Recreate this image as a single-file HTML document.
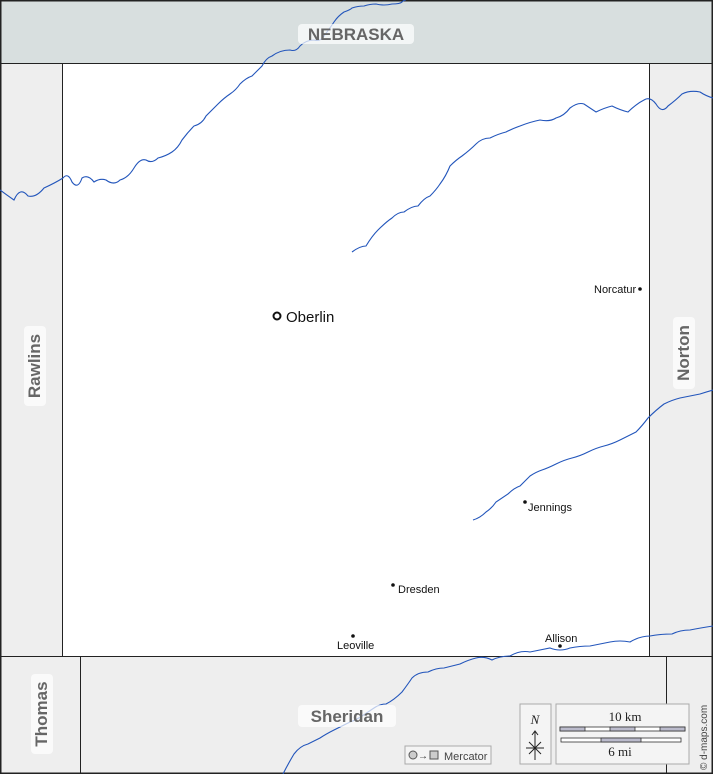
<!DOCTYPE html>
<html><head><style>body{margin:0}svg{display:block}</style></head><body>
<svg width="713" height="774" viewBox="0 0 713 774" xmlns="http://www.w3.org/2000/svg" font-family="Liberation Sans, sans-serif">
<rect width="713" height="774" fill="#eeeeee"/>
<rect x="0" y="0" width="713" height="63" fill="#d8dfdf"/>
<rect x="63" y="63" width="586" height="593" fill="#ffffff"/>
<g stroke="#222" fill="none" stroke-width="1">
<line x1="0" y1="63.5" x2="713" y2="63.5"/>
<line x1="62.5" y1="63" x2="62.5" y2="656"/>
<line x1="649.5" y1="63" x2="649.5" y2="656"/>
<line x1="0" y1="656.5" x2="713" y2="656.5"/>
<line x1="80.5" y1="656" x2="80.5" y2="774"/>
<line x1="666.5" y1="656" x2="666.5" y2="774"/>
<rect x="0.5" y="0.5" width="712" height="773" stroke-width="2"/>
</g>
<g stroke="#2255bb" fill="none" stroke-width="1.1">
<path d="M0,190 Q8,196 14,200 Q20,186 28,196 Q36,198 44,188 Q55,183 63,178 Q68,172 72,182 Q78,190 82,178 Q88,174 94,182 Q100,178 106,180 Q114,186 120,180 Q128,178 134,168 Q140,158 146,160 Q152,164 158,158 Q166,156 172,152 Q178,148 182,140 Q188,132 194,126 Q202,124 206,116 Q212,110 218,104 Q224,98 230,94 Q236,90 240,84 Q246,78 252,76 Q258,70 262,66 Q266,58 272,56 Q280,50 290,50 Q296,52 300,46 Q306,40 314,40 Q320,42 324,36 Q330,28 334,22 Q338,16 344,12 Q350,10 352,8 Q358,6 364,6 Q370,4 376,4 Q384,6 392,4 Q400,4 402,2 Q404,0 406,0"/>
<path d="M352,252 Q360,246 366,246 Q372,236 378,230 Q386,222 392,218 Q398,212 404,212 Q412,206 418,206 Q424,198 430,196 Q436,190 440,184 Q446,176 450,166 Q456,160 462,156 Q470,150 476,144 Q482,138 490,138 Q498,134 506,132 Q514,128 520,126 Q530,122 540,120 Q550,122 556,118 Q564,116 570,108 Q578,102 584,104 Q590,108 596,112 Q604,108 612,106 Q620,110 628,112 Q636,104 644,100 Q650,96 656,104 Q662,114 668,106 Q676,100 682,94 Q690,90 700,92 Q706,96 713,98"/>
<path d="M473,520 Q480,518 486,512 Q492,508 496,502 Q502,498 508,494 Q514,488 520,486 Q526,480 530,476 Q536,472 542,470 Q548,468 556,464 Q564,460 572,458 Q580,456 588,452 Q596,448 604,446 Q612,444 620,440 Q628,436 636,432 Q642,426 648,418 Q656,410 664,404 Q672,400 680,398 Q690,396 700,394 Q706,392 713,390"/>
<path d="M283,774 Q288,764 294,754 Q300,746 308,744 Q316,740 320,738 Q326,734 334,730 Q342,726 350,722 Q356,720 362,716 Q368,712 374,708 Q380,704 386,704 Q394,700 402,692 Q408,684 412,678 Q418,672 428,672 Q436,668 444,668 Q452,666 460,664 Q468,660 476,658 Q484,656 492,660 Q500,656 510,656 Q520,650 530,652 Q540,650 550,648 Q560,652 570,648 Q580,646 590,646 Q600,644 610,642 Q620,640 630,642 Q640,636 650,636 Q660,634 672,634 Q680,630 690,630 Q700,628 713,626"/>
</g>
<rect x="298" y="24" width="116" height="20" rx="4" fill="#ffffff" fill-opacity="0.7"/>
<text x="356" y="40" font-size="17" font-weight="bold" fill="#666" text-anchor="middle">NEBRASKA</text>
<g transform="translate(40,366) rotate(-90)"><rect x="-40" y="-16" width="80" height="22" rx="4" fill="#fff" fill-opacity="0.7"/><text x="0" y="0" font-size="17" font-weight="bold" fill="#666" text-anchor="middle">Rawlins</text></g>
<g transform="translate(689,353) rotate(-90)"><rect x="-36" y="-16" width="72" height="22" rx="4" fill="#fff" fill-opacity="0.7"/><text x="0" y="0" font-size="17" font-weight="bold" fill="#666" text-anchor="middle">Norton</text></g>
<g transform="translate(47,714) rotate(-90)"><rect x="-40" y="-16" width="80" height="22" rx="4" fill="#fff" fill-opacity="0.7"/><text x="0" y="0" font-size="17" font-weight="bold" fill="#666" text-anchor="middle">Thomas</text></g>
<rect x="298" y="705" width="98" height="22" rx="4" fill="#fff" fill-opacity="0.7"/>
<text x="347" y="722" font-size="17" font-weight="bold" fill="#666" text-anchor="middle">Sheridan</text>
<circle cx="277" cy="316" r="3.5" fill="#fff" stroke="#111" stroke-width="2"/>
<text x="286" y="322" font-size="15" fill="#111">Oberlin</text>
<g font-size="11" fill="#111">
<circle cx="640" cy="289" r="1.8"/><text x="594" y="293">Norcatur</text>
<circle cx="525" cy="502" r="1.8"/><text x="528" y="511">Jennings</text>
<circle cx="393" cy="585" r="1.8"/><text x="398" y="593">Dresden</text>
<circle cx="353" cy="636" r="1.8"/><text x="337" y="649">Leoville</text>
<circle cx="560" cy="646" r="1.8"/><text x="545" y="642">Allison</text>
</g>
<rect x="405" y="746" width="86" height="18" fill="#f4f4f4" stroke="#aaa"/>
<circle cx="413" cy="755" r="4" fill="#ccc" stroke="#555"/>
<text x="418" y="759" font-size="10" fill="#333">→</text>
<rect x="430" y="751" width="8" height="8" fill="#ccc" stroke="#555"/>
<text x="444" y="760" font-size="11" fill="#444">Mercator</text>
<rect x="520" y="704" width="31" height="60" fill="#f4f4f4" stroke="#aaa"/>
<text x="535" y="724" font-size="13" font-style="italic" font-family="Liberation Serif, serif" text-anchor="middle" fill="#222">N</text>
<g stroke="#222" stroke-width="1"><line x1="535" y1="732" x2="535" y2="760"/><line x1="526" y1="748" x2="544" y2="748"/><line x1="529" y1="742" x2="541" y2="754"/><line x1="541" y1="742" x2="529" y2="754"/><polyline points="532,735 535,731 538,735" fill="none"/></g>
<rect x="556" y="704" width="133" height="60" fill="#f4f4f4" stroke="#aaa"/>
<text x="625" y="721" font-size="13" font-family="Liberation Serif, serif" text-anchor="middle" fill="#222">10 km</text>
<text x="620" y="756" font-size="13" font-family="Liberation Serif, serif" text-anchor="middle" fill="#222">6 mi</text>
<g stroke="#333" stroke-width="0.8">
<rect x="560" y="727" width="125" height="4" fill="#fff"/>
<rect x="560" y="727" width="25" height="4" fill="#bbc"/><rect x="610" y="727" width="25" height="4" fill="#bbc"/><rect x="660" y="727" width="25" height="4" fill="#bbc"/>
<rect x="561" y="738" width="120" height="4" fill="#fff"/><rect x="601" y="738" width="40" height="4" fill="#bbc"/>
</g>
<text transform="translate(707,770) rotate(-90)" font-size="10" fill="#444">© d-maps.com</text>
</svg>
</body></html>
